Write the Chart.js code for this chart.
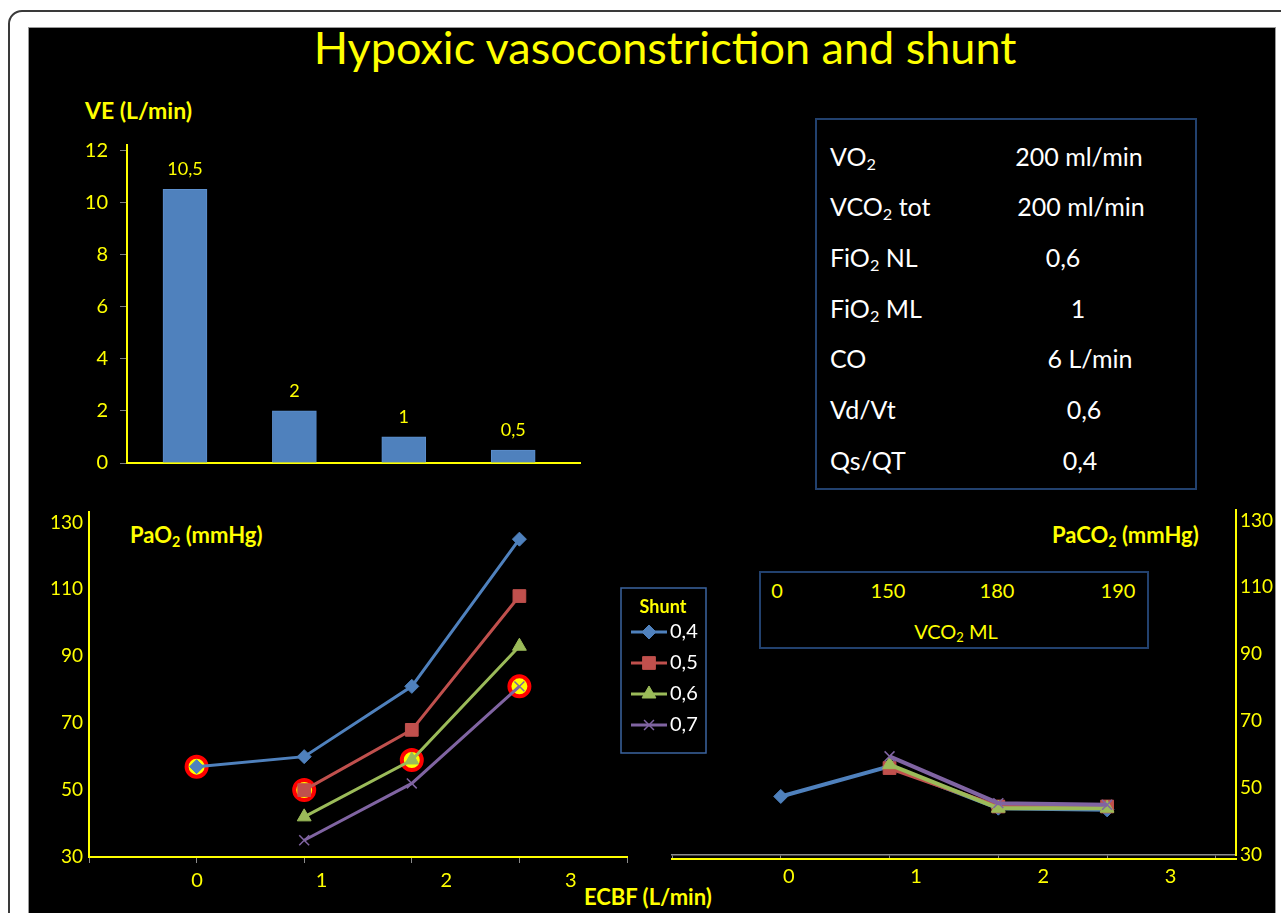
<!DOCTYPE html>
<html>
<head>
<meta charset="utf-8">
<script src="https://cdn.jsdelivr.net/npm/chart.js@4.4.1/dist/chart.umd.min.js"></script>
<style>
  body { margin: 0; width: 1281px; height: 913px; overflow: hidden; position: relative; background: #fff; font-family: Lato, "Open Sans", sans-serif; }
  #frame { position: absolute; left: 8px; top: 10px; width: 1320px; height: 960px; border: 2px solid #3a3a3a; border-radius: 14px; }
  #panel { position: absolute; left: 28px; top: 27px; width: 1246px; height: 920px; background: #000; border: 1px solid #9a9a9a; }
  canvas { position: absolute; }
  .y { position: absolute; color: #ff0; white-space: nowrap; line-height: 1.2; }
  .b { font-weight: bold; font-size: 21px; }
  #title { left: 0; width: 1330px; top: 20px; text-align: center; font-size: 45px; }
  #table { position: absolute; left: 815px; top: 118px; width: 378px; height: 368px; border: 2px solid #22416e; }
  #table div { position: absolute; color: #fff; font-size: 25px; white-space: nowrap; line-height: 30px; }
  #inset { position: absolute; left: 759px; top: 571px; width: 386px; height: 74px; border: 2px solid #22416e; }
  #inset div { position: absolute; color: #ff0; font-size: 20px; white-space: nowrap; line-height: 24px; transform: translateX(-50%); }
  sub { font-size: 0.65em; vertical-align: -0.25em; line-height: 0; }
</style>
</head>
<body>
<div id="frame"></div>
<div id="panel"></div>

<div class="y" id="title">Hypoxic vasoconstriction and shunt</div>
<div class="y b" style="left:85px; top:97px; font-size:23px;">VE (L/min)</div>
<div class="y b" style="left:130px; top:522px; font-size:22px;">PaO<sub>2</sub> (mmHg)</div>
<div class="y b" style="left:1052px; top:522px; font-size:22px;">PaCO<sub>2</sub> (mmHg)</div>
<div class="y b" style="left:584px; top:884px; font-size:22px;">ECBF (L/min)</div>

<div id="table"></div>
<div id="inset"></div>

<canvas id="veChart" width="534" height="366" style="left:47px; top:121px;"></canvas>
<canvas id="pao2Chart" width="687" height="418" style="left:30px; top:495px;"></canvas>
<canvas id="paco2Chart" width="641" height="418" style="left:640px; top:495px;"></canvas>

<script>
// ECBF steps (L/min) shared by all three charts
const ecbf = [0, 1, 2, 3]
const ecbfTickLabels = [0, 1, 2, 3]

// minute ventilation per ECBF step
const veValues = [10.5, 2, 1, 0.5]
const veTicks = [0, 2, 4, 6, 8, 10, 12]

// shunt fraction series
const shuntLevels = ["0,4", "0,5", "0,6", "0,7"]
const pao2Shunt04 = [57, 60, 81, 125]
const pao2Shunt05 = [null, 50, 68, 108]
const pao2Shunt06 = [null, 42, 59, 93]
const pao2Shunt07 = [null, 35, 52, 81]
const pao2Marked = [57, 50, 59, 81]

const paco2Shunt04 = [47.5, 56.5, 44, 43.5]
const paco2Shunt05 = [null, 56, 44.5, 44.5]
const paco2Shunt06 = [null, 57, 44, 44]
const paco2Shunt07 = [null, 59.5, 45.5, 45]

const pressureTicks = [30, 50, 70, 90, 110, 130]
const vco2ML = [0, 150, 180, 190]

const tableRows = [
  ["VO<sub>2</sub>", "200 ml/min"],
  ["VCO<sub>2</sub> tot", "200 ml/min"],
  ["FiO<sub>2</sub> NL", "0,6"],
  ["FiO<sub>2</sub> ML", "1"],
  ["CO", "6 L/min"],
  ["Vd/Vt", "0,6"],
  ["Qs/QT", "0,4"]
]

const YELLOW = "#ffff00"
const seriesColors = ["#4f81bd", "#c0504d", "#9bbb59", "#8064a2"]
const seriesMarkers = ["rectRot", "rect", "triangle", "crossRot"]
const markerRadius = [7, 9, 8, 7]

Chart.defaults.font.family = "Lato, 'Open Sans', sans-serif"
Chart.defaults.color = YELLOW

// side text boxes
const table = document.getElementById("table")
const rowCenters = [36, 86, 137, 188, 238, 289, 340]
const valueCenters = [262, 264, 246, 261, 273, 267, 263]
tableRows.forEach((row, i) => {
  const label = document.createElement("div")
  label.innerHTML = row[0]
  label.style.left = "13px"
  label.style.top = (rowCenters[i] - 15) + "px"
  table.appendChild(label)
  const value = document.createElement("div")
  value.textContent = row[1]
  value.style.left = valueCenters[i] + "px"
  value.style.top = (rowCenters[i] - 15) + "px"
  value.style.transform = "translateX(-50%)"
  table.appendChild(value)
})

const inset = document.getElementById("inset")
const insetCenters = [16, 127, 236, 357]
vco2ML.forEach((v, i) => {
  const d = document.createElement("div")
  d.textContent = v
  d.style.left = insetCenters[i] + "px"
  d.style.top = "5px"
  inset.appendChild(d)
})
const insetTitle = document.createElement("div")
insetTitle.innerHTML = "VCO<sub>2</sub> ML"
insetTitle.style.left = "195px"
insetTitle.style.top = "46px"
inset.appendChild(insetTitle)

function points(values) {
  return ecbf.map((x, i) => ({ x: x, y: values[i] }))
}

function fixWidth(w) {
  return scale => { scale.width = w }
}
function fixHeight(h) {
  return scale => { scale.height = h }
}
function setTicks(list) {
  return scale => { scale.ticks = list.map(v => ({ value: v })) }
}

// ---- VE bar chart
const barLabels = {
  id: "barLabels",
  afterDatasetsDraw(chart) {
    const ctx = chart.ctx
    const meta = chart.getDatasetMeta(0)
    ctx.save()
    ctx.fillStyle = YELLOW
    ctx.font = "18px Lato, sans-serif"
    ctx.textAlign = "center"
    ctx.textBaseline = "middle"
    meta.data.forEach((bar, i) => {
      const text = String(chart.data.datasets[0].data[i].y).replace(".", ",")
      ctx.fillText(text, bar.x, bar.y - 20)
    })
    ctx.restore()
  }
}

new Chart(document.getElementById("veChart"), {
  type: "bar",
  data: {
    datasets: [{
      data: points(veValues),
      backgroundColor: "#4f81bd",
      borderColor: "#5d8fcc",
      borderWidth: 1,
      borderSkipped: "bottom",
      barThickness: 44
    }]
  },
  plugins: [barLabels],
  options: {
    responsive: false,
    animation: false,
    layout: { padding: { top: 20, bottom: 15, left: 0, right: 0 } },
    plugins: { legend: { display: false }, tooltip: { enabled: false } },
    scales: {
      x: {
        type: "linear",
        offset: false,
        min: -0.53,
        max: 3.62,
        grid: { display: false, drawTicks: false, offset: false },
        ticks: { display: false },
        border: { color: YELLOW, width: 2 },
        afterFit: fixHeight(0)
      },
      y: {
        min: 0,
        max: 12.2,
        afterBuildTicks: setTicks(veTicks),
        afterFit: fixWidth(80),
        grid: { drawOnChartArea: false, tickLength: 7, tickColor: "#7f7f7f" },
        border: { color: YELLOW, width: 2 },
        ticks: { color: YELLOW, font: { size: 20 }, padding: 12 }
      }
    }
  }
})

// ---- line chart helpers
function lineSets(seriesList, lineWidth) {
  return seriesList.map((values, i) => ({
    label: shuntLevels[i],
    data: points(values),
    borderColor: seriesColors[i],
    backgroundColor: seriesColors[i],
    borderWidth: lineWidth,
    pointStyle: seriesMarkers[i],
    pointRadius: markerRadius[i],
    pointBorderWidth: i === 3 ? 1.5 : 1,
    pointBorderColor: seriesColors[i],
    pointBackgroundColor: seriesColors[i],
    tension: 0,
    // later series on top, like the original spreadsheet chart
    order: seriesList.length - 1 - i
  }))
}

function ecbfAxes(labelMin, labelMax, dataMax, dataBorder, dataTick, labelBorder) {
  return {
    x: {
      type: "linear",
      position: "bottom",
      weight: 0,
      min: -1,
      max: dataMax,
      afterBuildTicks: scale => {
        const list = []
        for (let v = -1; v <= dataMax; v++) list.push({ value: v })
        scale.ticks = list
      },
      afterFit: fixHeight(dataTick),
      grid: { drawOnChartArea: false, tickLength: dataTick, tickColor: "#8c8c8c" },
      ticks: { display: false },
      border: dataBorder
    },
    xl: {
      type: "linear",
      position: "bottom",
      weight: 1,
      min: labelMin,
      max: labelMax,
      afterBuildTicks: setTicks(ecbfTickLabels),
      afterFit: fixHeight(30),
      grid: { display: false, drawTicks: false },
      border: labelBorder,
      ticks: { color: YELLOW, font: { size: 20 }, padding: 6 }
    }
  }
}

function pressureAxis(position) {
  return {
    position: position,
    min: 30,
    max: 133,
    afterBuildTicks: setTicks(pressureTicks),
    afterFit: fixWidth(position === "left" ? 59 : 45),
    grid: { display: false, drawTicks: false },
    border: { color: YELLOW, width: 2 },
    ticks: { color: YELLOW, font: { size: 19 }, padding: position === "left" ? 6 : 4 }
  }
}

// legend drawn beside the PaO2 plot
const shuntLegend = {
  id: "shuntLegend",
  afterDraw(chart) {
    const ctx = chart.ctx
    const left = chart.chartArea.right - 6
    const top = 93
    ctx.save()
    ctx.strokeStyle = "#3b64a0"
    ctx.lineWidth = 1.5
    ctx.strokeRect(left, top, 85, 165)
    ctx.fillStyle = YELLOW
    ctx.font = "bold 18px Lato, sans-serif"
    ctx.textAlign = "center"
    ctx.textBaseline = "middle"
    ctx.fillText("Shunt", left + 42, top + 19)
    const sets = chart.data.datasets.filter(d => !d.marked)
    sets.forEach((ds, i) => {
      const y = top + 44 + i * 31
      ctx.strokeStyle = ds.borderColor
      ctx.fillStyle = ds.backgroundColor
      ctx.lineWidth = 3
      ctx.beginPath()
      ctx.moveTo(left + 10, y)
      ctx.lineTo(left + 46, y)
      ctx.stroke()
      ctx.lineWidth = ds.pointBorderWidth
      Chart.helpers.drawPoint(ctx, {
        pointStyle: ds.pointStyle,
        radius: ds.pointRadius,
        rotation: 0,
        borderWidth: ds.pointBorderWidth
      }, left + 28, y)
      ctx.fillStyle = "#ffffff"
      ctx.font = "20px Lato, sans-serif"
      ctx.textAlign = "left"
      ctx.fillText(ds.label, left + 49, y)
    })
    ctx.restore()
  }
}

// ---- PaO2 chart
const pao2Sets = lineSets([pao2Shunt04, pao2Shunt05, pao2Shunt06, pao2Shunt07], 3)
pao2Sets.push({
  label: "marked",
  marked: true,
  data: points(pao2Marked),
  showLine: false,
  pointStyle: "circle",
  pointRadius: 10,
  pointBorderWidth: 4,
  pointBackgroundColor: YELLOW,
  pointBorderColor: "#ff0000",
  order: 10
})

new Chart(document.getElementById("pao2Chart"), {
  type: "line",
  data: { datasets: pao2Sets },
  plugins: [shuntLegend],
  options: {
    responsive: false,
    animation: false,
    layout: { padding: { top: 14, bottom: 20, left: 0, right: 90 } },
    plugins: { legend: { display: false }, tooltip: { enabled: false } },
    scales: Object.assign(
      ecbfAxes(-0.866, 3.45, 4, { color: YELLOW, width: 2 }, 6, { display: false }),
      { y: pressureAxis("left") }
    )
  }
})

// ---- PaCO2 chart
new Chart(document.getElementById("paco2Chart"), {
  type: "line",
  data: { datasets: lineSets([paco2Shunt04, paco2Shunt05, paco2Shunt06, paco2Shunt07], 4) },
  options: {
    responsive: false,
    animation: false,
    layout: { padding: { top: 14, bottom: 24, left: 32, right: 0 } },
    plugins: { legend: { display: false }, tooltip: { enabled: false } },
    scales: Object.assign(
      ecbfAxes(-0.918, 3.515, 4.185, { color: "#8c8c8c", width: 1.5 }, 4, { color: YELLOW, width: 2 }),
      { y: pressureAxis("right") }
    )
  }
})
</script>
</body>
</html>
